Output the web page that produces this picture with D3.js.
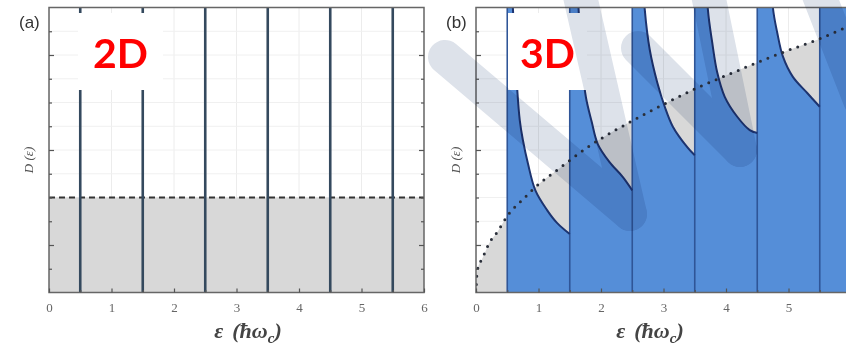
<!DOCTYPE html>
<html>
<head>
<meta charset="utf-8">
<script src="https://cdn.jsdelivr.net/npm/d3@7"></script>
<style>
  body { margin: 0; background: #fff; }
  svg { display: block; }
</style>
</head>
<body>
<svg id="chart" width="846" height="346"></svg>
<script>
// data --------------------------------------------------------
const xTicks = [0, 1, 2, 3, 4, 5, 6];
const xMinorTicks = [0.5, 1.5, 2.5, 3.5, 4.5, 5.5];
const yMajorTicks = [1, 3, 5];
const yMinorTicks = [0.5, 1.5, 2, 2.5, 3.5, 4, 4.5, 5.5];
const landauLevels = [0.5, 1.5, 2.5, 3.5, 4.5, 5.5];
const dos2DClassical = 2.0;

// 3D: free-electron DOS (dotted) and Landau-quantised DOS branches
const freeDos3D = [[0, 0], [0.02, 0.46], [0.11, 0.74], [0.22, 1.06], [0.34, 1.27], [0.5, 1.61],
  [0.75, 1.96], [1.02, 2.30], [1.3, 2.58], [1.79, 3.06], [2.62, 3.70], [3.15, 4.06],
  [3.54, 4.31], [3.95, 4.54], [4.5, 4.84], [5.02, 5.11], [5.46, 5.32], [5.92, 5.58]];
const branch1 = [[0.5, 7.5], [0.55, 7.5], [0.59, 6.0], [0.66, 4.27], [0.70, 3.63], [0.75, 3.21],
  [0.83, 2.72], [0.95, 2.15], [1.14, 1.73], [1.30, 1.46], [1.5, 1.23]];
const branch2 = [[1.5, 7.5], [1.59, 7.5], [1.64, 6.0], [1.70, 4.75], [1.76, 4.1], [1.85, 3.6],
  [1.95, 3.12], [2.14, 2.74], [2.35, 2.43], [2.5, 2.15]];
const branch3 = [[2.5, 7.5], [2.64, 7.5], [2.70, 5.96], [2.78, 5.11], [2.90, 4.42], [3.02, 3.91],
  [3.15, 3.49], [3.38, 3.06], [3.5, 2.89]];
const branch4 = [[3.5, 7.5], [3.66, 7.5], [3.71, 5.96], [3.78, 5.26], [3.86, 4.63], [3.98, 4.12],
  [4.18, 3.70], [4.38, 3.42], [4.5, 3.36]];
const branch5 = [[4.5, 7.5], [4.70, 7.5], [4.75, 6.0], [4.82, 5.47], [4.91, 4.97], [5.07, 4.54],
  [5.30, 4.20], [5.5, 3.91]];
const branch6 = [[5.5, 7.5], [5.85, 7.5], [5.95, 6.2], [6.0, 5.9]];
const branches3D = [branch1, branch2, branch3, branch4, branch5, branch6];

// watermark strokes (pixel space)
const watermark = [
  [[445, 57], [630, 214]],
  [[574, -30], [630, 214]],
  [[638, 48], [740, 150]],
  [[703, -30], [740, 150]],
  [[815, -15], [860, 100]]
];
// -------------------------------------------------------------

const svg = d3.select('#chart');
const y = d3.scaleLinear().domain([0, 6]).range([292.5, 7.5]);
const frameColor = '#666';

function makePanel(id, left) {
  const x = d3.scaleLinear().domain([0, 6]).range([left, left + 375]);
  const g = svg.append('g').attr('id', id);
  g.append('clipPath').attr('id', id + '-clip')
    .append('rect')
    .attr('x', x(0)).attr('y', y(6))
    .attr('width', x(6) - x(0)).attr('height', y(0) - y(6));
  const plot = g.append('g').attr('clip-path', 'url(#' + id + '-clip)');

  // faint grid
  plot.selectAll('line.gx').data(xTicks).join('line')
    .attr('class', 'gx')
    .attr('x1', d => x(d)).attr('x2', d => x(d))
    .attr('y1', y(0)).attr('y2', y(6))
    .attr('stroke', '#ececec').attr('stroke-width', 1);
  plot.selectAll('line.gy').data(yMajorTicks.concat(yMinorTicks)).join('line')
    .attr('class', 'gy')
    .attr('x1', x(0)).attr('x2', x(6))
    .attr('y1', d => y(d)).attr('y2', d => y(d))
    .attr('stroke', '#f0f0f0').attr('stroke-width', 1);
  return { g, plot, x };
}

function drawAxes(p, withRight, titleX) {
  const { g, x } = p;
  g.append('rect')
    .attr('x', x(0)).attr('y', y(6))
    .attr('width', x(6) - x(0)).attr('height', y(0) - y(6))
    .attr('fill', 'none').attr('stroke', frameColor).attr('stroke-width', 1.5);

  const bottom = g.append('g').attr('transform', 'translate(0,' + y(0) + ')')
    .call(d3.axisBottom(x).tickValues(xTicks).tickFormat(d3.format('d'))
      .tickSize(-4).tickSizeOuter(0).tickPadding(10));
  const bottomMinor = g.append('g').attr('transform', 'translate(0,' + y(0) + ')')
    .call(d3.axisBottom(x).tickValues(xMinorTicks).tickSize(-2.5).tickSizeOuter(0).tickFormat(''));
  const left = g.append('g').attr('transform', 'translate(' + x(0) + ',0)')
    .call(d3.axisLeft(y).tickValues(yMajorTicks).tickSize(-5).tickSizeOuter(0).tickFormat(''));
  const leftMinor = g.append('g').attr('transform', 'translate(' + x(0) + ',0)')
    .call(d3.axisLeft(y).tickValues(yMinorTicks).tickSize(-3).tickSizeOuter(0).tickFormat(''));
  const axes = [bottom, bottomMinor, left, leftMinor];
  if (withRight) {
    axes.push(g.append('g').attr('transform', 'translate(' + x(6) + ',0)')
      .call(d3.axisRight(y).tickValues(yMajorTicks).tickSize(-5).tickSizeOuter(0).tickFormat('')));
    axes.push(g.append('g').attr('transform', 'translate(' + x(6) + ',0)')
      .call(d3.axisRight(y).tickValues(yMinorTicks).tickSize(-3).tickSizeOuter(0).tickFormat('')));
  }
  axes.forEach(a => {
    a.select('.domain').remove();
    a.selectAll('.tick line').attr('stroke', '#555').attr('stroke-width', 1.2);
  });
  bottom.selectAll('.tick text')
    .attr('font-family', 'Liberation Serif, serif')
    .attr('font-size', 13).attr('fill', '#666');

  // axis titles
  const title = g.append('text')
    .attr('x', titleX).attr('y', 338)
    .attr('text-anchor', 'middle')
    .attr('font-family', 'Liberation Serif, serif')
    .attr('font-style', 'italic').attr('font-weight', 'bold')
    .attr('font-size', 22).attr('fill', '#444');
  title.append('tspan').text('ε');
  title.append('tspan').attr('dx', 9).text('(ħω');
  title.append('tspan').attr('font-size', 15).attr('dy', 5).text('c');
  title.append('tspan').attr('dy', -5).text(')');

  g.append('text')
    .attr('transform', 'translate(' + (x(0) - 16) + ',160) rotate(-90)')
    .attr('text-anchor', 'middle')
    .attr('font-family', 'Liberation Serif, serif')
    .attr('font-style', 'italic')
    .attr('font-size', 13).attr('fill', '#555')
    .text('D (ε)');
}

function labelBox(g, bx, by, bw, bh, text) {
  g.append('rect').attr('x', bx).attr('y', by).attr('width', bw).attr('height', bh).attr('fill', '#fff');
  g.append('text')
    .attr('x', bx + bw / 2).attr('y', by + 55)
    .attr('text-anchor', 'middle')
    .attr('font-family', 'Lato, Liberation Sans, sans-serif')
    .attr('font-weight', 'bold').attr('font-size', 41)
    .attr('fill', '#ff0000')
    .text(text);
}

// panel (a): 2D -------------------------------------------------
const pa = makePanel('panel-a', 49);
const area2D = d3.area().x(d => pa.x(d)).y0(y(0)).y1(y(dos2DClassical));
pa.plot.append('path').datum([0, 6]).attr('d', area2D).attr('fill', '#d8d8d8');
pa.plot.append('line')
  .attr('x1', pa.x(0)).attr('x2', pa.x(6))
  .attr('y1', y(dos2DClassical)).attr('y2', y(dos2DClassical))
  .attr('stroke', '#333').attr('stroke-width', 2).attr('stroke-dasharray', '6,4');
pa.plot.selectAll('line.level').data(landauLevels).join('line')
  .attr('class', 'level')
  .attr('x1', d => pa.x(d)).attr('x2', d => pa.x(d))
  .attr('y1', y(0)).attr('y2', y(6))
  .attr('stroke', '#34495e').attr('stroke-width', 2.6);
drawAxes(pa, true, 248);
labelBox(pa.g, 78, 13, 85, 77, '2D');
pa.g.append('text').attr('x', 19).attr('y', 28)
  .attr('font-family', 'Liberation Sans, sans-serif').attr('font-size', 17).attr('fill', '#333')
  .text('(a)');

// panel (b): 3D -------------------------------------------------
const pb = makePanel('panel-b', 476);
const xb = pb.x;
const freeArea = d3.area().x(d => xb(d[0])).y0(y(0)).y1(d => y(d[1])).curve(d3.curveMonotoneX);
pb.plot.append('path').datum(freeDos3D).attr('d', freeArea).attr('fill', '#d8d8d8');

const smooth = d3.curveCatmullRom.alpha(0.5);
const branchArea = d3.area().x(d => xb(d[0])).y0(y(0)).y1(d => y(d[1])).curve(smooth);
const branchLine = d3.line().x(d => xb(d[0])).y(d => y(d[1])).curve(smooth);
pb.plot.selectAll('path.band').data(branches3D).join('path')
  .attr('class', 'band').attr('d', branchArea).attr('fill', '#558ed8');
pb.plot.selectAll('line.level').data(landauLevels).join('line')
  .attr('class', 'level')
  .attr('x1', d => xb(d)).attr('x2', d => xb(d))
  .attr('y1', y(0)).attr('y2', y(6))
  .attr('stroke', '#2f5597').attr('stroke-width', 1.6);
pb.plot.selectAll('path.edge').data(branches3D).join('path')
  .attr('class', 'edge').attr('d', d => branchLine(d.slice(1)))
  .attr('fill', 'none').attr('stroke', '#1d3470').attr('stroke-width', 2);
pb.plot.append('path').datum(freeDos3D)
  .attr('d', d3.line().x(d => xb(d[0])).y(d => y(d[1])).curve(d3.curveMonotoneX))
  .attr('fill', 'none').attr('stroke', '#2a2f3a').attr('stroke-width', 3)
  .attr('stroke-linecap', 'round').attr('stroke-dasharray', '0,8');

drawAxes(pb, false, 650);

// watermark over panel (b)
svg.append('g').style('mix-blend-mode', 'multiply')
  .selectAll('line').data(watermark).join('line')
  .attr('x1', d => d[0][0]).attr('y1', d => d[0][1])
  .attr('x2', d => d[1][0]).attr('y2', d => d[1][1])
  .attr('stroke', '#dde2ea').attr('stroke-width', 34).attr('stroke-linecap', 'round');

labelBox(pb.g, 508, 13, 79, 77, '3D');
pb.g.append('text').attr('x', 446).attr('y', 28)
  .attr('font-family', 'Liberation Sans, sans-serif').attr('font-size', 17).attr('fill', '#333')
  .text('(b)');
</script>
</body>
</html>
